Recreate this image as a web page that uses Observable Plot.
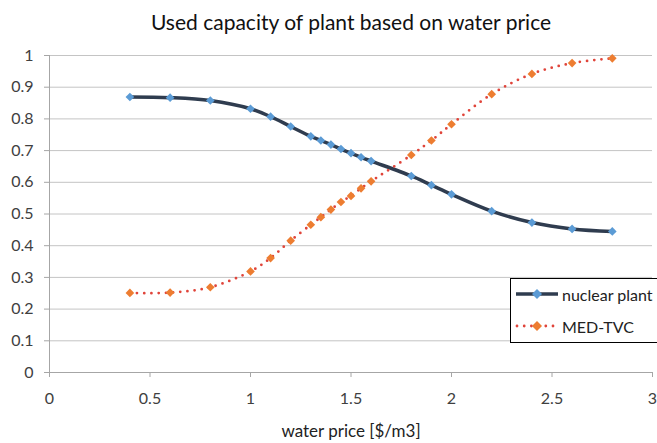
<!DOCTYPE html>
<html>
<head>
<meta charset="utf-8">
<script src="https://cdn.jsdelivr.net/npm/d3@7"></script>
<script src="https://cdn.jsdelivr.net/npm/@observablehq/plot@0.6"></script>
<style>
  html, body { margin: 0; padding: 0; background: #fff; }
  #wrap { position: relative; width: 657px; height: 443px; overflow: hidden; font-family: Lato, "Open Sans", sans-serif; }
  #legend { position: absolute; left: 510px; top: 278px; width: 160px; height: 65px; border: 1px solid #000; background: #fff; box-sizing: border-box; }
  .lg { position: absolute; left: 4px; height: 20px; display: flex; align-items: center; font-size: 16px; color: #222; }
  .lg svg { margin-right: 3px; }
</style>
</head>
<body>
<div id="wrap"></div>
<script>
const title = "Used capacity of plant based on water price";
const xLabel = "water price [$/m3]";
const seriesNames = ["nuclear plant", "MED-TVC"];
const prices = [0.4, 0.6, 0.8, 1.0, 1.1, 1.2, 1.3, 1.35, 1.4, 1.45, 1.5, 1.55, 1.6, 1.8, 1.9, 2.0, 2.2, 2.4, 2.6, 2.8];
const nuclear = [0.869, 0.867, 0.858, 0.832, 0.807, 0.776, 0.745, 0.732, 0.719, 0.705, 0.692, 0.679, 0.667, 0.620, 0.591, 0.562, 0.509, 0.473, 0.453, 0.445];
const medtvc = [0.251, 0.252, 0.269, 0.319, 0.361, 0.416, 0.466, 0.490, 0.514, 0.538, 0.557, 0.581, 0.603, 0.686, 0.732, 0.783, 0.878, 0.942, 0.976, 0.991];
const xTicks = [0, 0.5, 1, 1.5, 2, 2.5, 3];
const yTicks = [0, 0.1, 0.2, 0.3, 0.4, 0.5, 0.6, 0.7, 0.8, 0.9, 1];

const nucData = prices.map((p, i) => ({x: p, y: nuclear[i]}));
const medData = prices.map((p, i) => ({x: p, y: medtvc[i]}));

const navy = "#2f3c4f", blue = "#5b9bd5", red = "#e0443a", orange = "#ed7d31";

const chart = Plot.plot({
  width: 657,
  height: 443,
  marginLeft: 49,
  marginRight: 5,
  marginTop: 55,
  marginBottom: 71,
  style: {fontFamily: "Lato, 'Open Sans', sans-serif", background: "#fff"},
  x: {domain: [0, 3]},
  y: {domain: [0, 1]},
  marks: [
    Plot.gridY(yTicks.slice(1), {stroke: "#c4c4c4", strokeOpacity: 1, strokeWidth: 1}),
    Plot.ruleY([0], {stroke: "#a6a6a6"}),
    Plot.ruleX([0], {stroke: "#a6a6a6"}),
    Plot.axisY(yTicks, {tickSize: 5, tickPadding: 11, stroke: "#a6a6a6", fill: "#404040", fontSize: 16, label: null, tickFormat: d => String(d)}),
    Plot.axisX(xTicks, {tickSize: 5, tickPadding: 15, stroke: "#a6a6a6", fill: "#404040", fontSize: 16, label: null, tickFormat: d => String(d)}),
    Plot.line(nucData, {x: "x", y: "y", stroke: navy, strokeWidth: 3.5, curve: "catmull-rom"}),
    Plot.dot(nucData, {x: "x", y: "y", symbol: "diamond2", r: 3.9, fill: blue, stroke: "none"}),
    Plot.line(medData, {x: "x", y: "y", stroke: red, strokeWidth: 2.8, strokeDasharray: "0 7.2", strokeLinecap: "round", curve: "catmull-rom"}),
    Plot.dot(medData, {x: "x", y: "y", symbol: "diamond2", r: 3.9, fill: orange, stroke: "none"}),
    Plot.text([title], {frameAnchor: "top", dy: -40, fontSize: 21, fill: "#111", text: d => d}),
    Plot.text([xLabel], {frameAnchor: "bottom", dy: 64, fontSize: 17, fill: "#222", text: d => d})
  ]
});
chart.style.position = "absolute";
chart.style.left = "0px";
chart.style.top = "0px";
const wrap = document.getElementById("wrap");
wrap.appendChild(chart);

const legend = document.createElement("div");
legend.id = "legend";
legend.innerHTML = `
  <div class="lg" style="top:5px">
    <svg width="44" height="12"><line x1="1" y1="6" x2="43" y2="6" stroke="${navy}" stroke-width="3.5"/><path d="M22,1 L27,6 L22,11 L17,6 Z" fill="${blue}"/></svg>${seriesNames[0]}</div>
  <div class="lg" style="top:37px">
    <svg width="44" height="12"><line x1="2" y1="6" x2="43" y2="6" stroke="${red}" stroke-width="2.8" stroke-dasharray="0 7.2" stroke-linecap="round"/><path d="M22,1 L27,6 L22,11 L17,6 Z" fill="${orange}"/></svg>${seriesNames[1]}</div>`;
wrap.appendChild(legend);
</script>
</body>
</html>
